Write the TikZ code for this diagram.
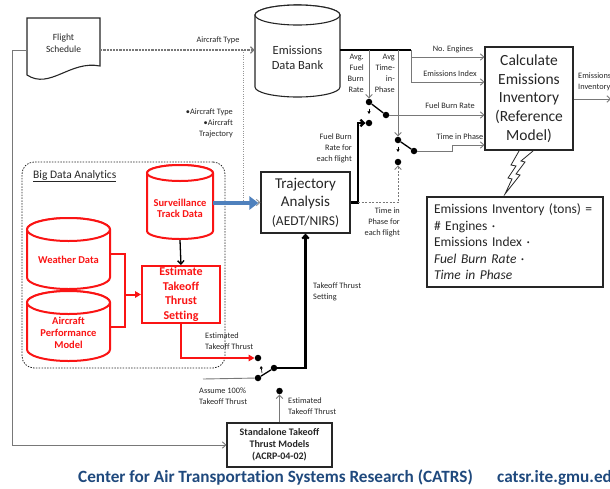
\documentclass[tikz,border=0pt]{standalone}
\usepackage{fontspec}
\setmainfont{Carlito}[Ligatures=CommonOff]
\usetikzlibrary{arrows.meta}
\definecolor{ink}{RGB}{38,38,38}
\definecolor{wiregray}{RGB}{120,120,120}
\definecolor{faint}{RGB}{150,150,150}
\definecolor{alert}{RGB}{250,20,20}
\definecolor{flow}{RGB}{79,129,189}
\definecolor{brand}{RGB}{31,73,125}
\newcommand\fsz[2]{\fontsize{#1}{#2}\selectfont}
% database drum: style, x1, top, x2, bottom, half height of the lid
\newcommand\drum[6]{%
  \draw[#1] (#2,#3+#6) -- (#2,#5-#6)
    arc[start angle=180,end angle=0,x radius={(#4-#2)/2},y radius=#6]
    -- (#4,#3+#6)
    arc[start angle=0,end angle=-180,x radius={(#4-#2)/2},y radius=#6] -- cycle;
  \draw[#1] ({(#2+#4)/2},#3+#6) ellipse[x radius={(#4-#2)/2},y radius=#6];
}
\begin{document}
\begin{tikzpicture}[x=1pt,y=-1pt,
  box/.style={draw=ink,line width=1.1pt,fill=white,inner sep=0,align=center,text=ink},
  hotbox/.style={draw=alert,line width=2pt,fill=white,inner sep=0,align=center,text=alert,font=\bfseries\fsz{12}{14.5}},
  tag/.style={inner sep=0,text=ink,font=\fsz{8.3}{10.9}},
  wire/.style={draw=wiregray,line width=0.9pt},
  barb/.style={-{Straight Barb[length=3.5pt,width=6.5pt]}},
  heavy/.style={draw=black,line width=2.2pt},
  hot/.style={draw=alert,line width=2pt},
  hothead/.style={-{Triangle[length=6pt,width=6.5pt]}},
  contact/.style={circle,fill=black,inner sep=0,minimum size=6.5pt},
  dashwire/.style={draw=wiregray,line width=1.2pt,dash pattern=on 2.2pt off 1pt},
  thindash/.style={draw=wiregray,line width=0.8pt,dash pattern=on 2pt off 1.5pt},
  dotwire/.style={draw=faint,line width=0.9pt,dash pattern=on 1pt off 1.3pt},
  hint/.style={-{Triangle[length=2.6pt,width=3pt]},line width=0.6pt},
  cylred/.style={draw=alert,line width=2pt,fill=white},
  cylink/.style={draw=ink,line width=1.1pt,fill=white}
]
\useasboundingbox (0,0) rectangle (610,488);

% ---------- big data analytics region ----------
\node[draw=ink,line width=0.8pt,dash pattern=on 1.5pt off 1.3pt,rounded corners=12pt,
      minimum width=203pt,minimum height=206pt,inner sep=0] (bda) at (123.5,265) {};
\node[tag,font=\fsz{11.5}{13},anchor=west] (bdalab) at (33,176) {\underline{Big Data Analytics}};

% ---------- flight schedule (document shape) ----------
\draw[ink,line width=1.1pt,fill=white] (27,18) -- (100,18) -- (100,66)
  .. controls (70,60) and (50,90) .. (27,75) -- cycle;
\node[inner sep=0,minimum width=73pt,minimum height=64pt] (sched) at (63.5,50) {};
\node[tag,font=\fsz{9.5}{12},align=center] (schedtxt) at (63.5,43) {Flight\\Schedule};

% ---------- data stores ----------
\drum{cylink}{255}{5}{340}{97}{10}
\node[inner sep=0,minimum width=85pt,minimum height=90pt] (bank) at (297.5,50) {};
\node[tag,font=\fsz{12.5}{15},align=center] (banktxt) at (297.5,57.5) {Emissions\\Data Bank};

\drum{cylred}{147}{165}{213}{239}{8}
\node[inner sep=0,minimum width=66pt,minimum height=74pt] (surv) at (180,203) {};
\node[text=alert,font=\bfseries\fsz{10.5}{11.5},align=center,inner sep=0] (survtxt) at (180,208.5) {Surveillance\\Track Data};

\drum{cylred}{27}{218}{110}{289}{11.5}
\node[inner sep=0,minimum width=83pt,minimum height=70pt] (wx) at (68.5,254) {};
\node[text=alert,font=\bfseries\fsz{10.5}{12},inner sep=0] (wxtxt) at (68.5,260) {Weather Data};

\drum{cylred}{27}{291}{110}{361}{11.5}
\node[inner sep=0,minimum width=83pt,minimum height=66pt] (acp) at (68.5,327) {};
\node[text=alert,font=\bfseries\fsz{10.5}{12},align=center,inner sep=0] (acptxt) at (68.5,333) {Aircraft\\Performance\\Model};

% ---------- process boxes ----------
\node[hotbox,minimum width=78pt,minimum height=57pt] (est) at (181,294.5) {Estimate\\Takeoff\\Thrust\\Setting};
\node[box,minimum width=89pt,minimum height=61pt,font=\fsz{15}{18.5}] (traj) at (305.5,202.5)
  {Trajectory\\Analysis\\{\fsz{13.5}{18.5}(AEDT/NIRS)}};
\node[box,minimum width=88pt,minimum height=103pt,font=\fsz{15.5}{18.8}] (calc) at (529,98.5)
  {Calculate\\Emissions\\Inventory\\(Reference\\Model)};
\node[box,minimum width=176pt,minimum height=90pt,text width=162pt,align=left,font=\fsz{13.5}{16.5}] (formula) at (515,242)
  {Emissions Inventory (tons) =\\\# Engines ·\\Emissions Index ·\\\textit{Fuel Burn Rate} ·\\\textit{Time in Phase}};
\node[box,minimum width=105pt,minimum height=44pt,font=\bfseries\fsz{10}{12}] (stand) at (279.5,445)
  {Standalone Takeoff\\Thrust Models\\(ACRP-04-02)};

% lightning link between the two right-hand boxes
\draw[ink,line width=0.8pt,fill=white] (519,151) -- (511,165) -- (516,166) -- (508,178) -- (512,179)
  -- (505,194) -- (520,175) -- (516,174) -- (525,162) -- (521,161) -- (533,151);

% ---------- switch contacts ----------
\node[contact] (t1) at (369,102) {};
\node[contact] (l1) at (369,123) {};
\node[contact] (r1) at (386,115) {};
\node[contact] (t2) at (398,140) {};
\node[contact] (l2) at (398,162) {};
\node[contact] (r2) at (414,151) {};
\node[contact] (t3) at (258,358) {};
\node[contact] (l3) at (258,378) {};
\node[contact] (r3) at (274,368) {};
\node[contact] (d4) at (279.5,391) {};

% ---------- helper points ----------
\coordinate (tap) at (243,50);
\coordinate (busend) at (411,50);
\coordinate (yEng) at (0,57);
\coordinate (yIdx) at (0,82);
\coordinate (jog) at (452,145);
\coordinate (fbx) at (358,0);
\coordinate (redx) at (125,0);
\coordinate (lcorner) at (12,50);
\coordinate (asm) at (203,379);
\coordinate (outEnd) at (611,99);

% ---------- connectors ----------
\draw[dashwire,barb] (sched.east) -- (bank.west);
\draw[dotwire,barb] (tap) |- (traj.west);
\draw[wire,barb] (sched.west) -- (lcorner) |- (stand.west);

\draw[heavy] (bank.east) -- (busend);
\draw[wire,barb] (busend |- yEng) -- (calc.west |- yEng);
\draw[wire,barb] (busend) |- (calc.west |- yIdx);
\draw[wire,barb] (t1 |- busend) -- (t1);
\draw[wire,barb] (t2 |- busend) -- (t2);

\draw[black,line width=1.3pt] (t1) -- (r1);
\draw[hint] (369,108.5) -- (369,114);
\draw[wire,barb] (r1) -- (calc.west |- r1);

\draw[black,line width=1.3pt] (t2) -- (r2);
\draw[hint] (398,146.5) -- (398,152);
\draw[wire,barb] (r2) -- (jog |- r2) -- (jog) -- (calc.west |- jog);

\draw[heavy,barb] (traj.east) -- (traj.east -| fbx) -- (fbx |- l1) -- (l1);
\draw[thindash,barb] (traj.east -| fbx) -| (l2);

\draw[wire,barb] (calc.east |- outEnd) -- (outEnd);

\draw[line width=3.6pt,flow,-{Triangle[length=9pt,width=13pt]},shorten >=2pt] (surv.east) -- (traj.west |- surv.east);
\draw[black,line width=1.3pt,barb] (surv.south) -- (est.north);

\draw[hot] (wx.east) -- (redx |- wx.east) -- (redx |- acp.east) -- (acp.east);
\draw[hot,hothead] (redx |- est.west) -- (est.west);
\draw[hot,hothead] (est.south) |- (t3);

\draw[black,line width=1.3pt] (l3) -- (r3);
\draw[hint] (262,373) -- (261,366);
\draw[heavy,barb] (r3) -| (traj.south);
\draw[wire] (asm) -- (l3);
\draw[wire,barb] (stand.north) -- (d4);

% ---------- connector labels ----------
\node[tag] (lat) at (218,40) {Aircraft Type};
\node[tag,align=right,anchor=east] (lac) at (233,123.5) {•Aircraft Type\\•Aircraft\\Trajectory};
\node[tag] (leng) at (453,49) {No. Engines};
\node[tag] (lidx) at (450,74) {Emissions Index};
\node[tag] (lfbr) at (450,106) {Fuel Burn Rate};
\node[tag] (ltip) at (460,137) {Time in Phase};
\node[tag,align=right,anchor=east] (lavf) at (364,73.5) {Avg.\\Fuel\\Burn\\Rate};
\node[tag,align=right,anchor=east] (lavt) at (395,73.5) {Avg\\Time-\\in-\\Phase};
\node[tag,align=right,anchor=east] (lfbf) at (352,148.5) {Fuel Burn\\Rate for\\each flight};
\node[tag,align=right,anchor=east] (ltpf) at (400,222.5) {Time in\\Phase for\\each flight};
\node[tag,align=left,anchor=west] (ltts) at (313,292) {Takeoff Thrust\\Setting};
\node[tag,align=left,anchor=west] (lett1) at (205,341.5) {Estimated\\Takeoff Thrust};
\node[tag,align=left,anchor=west] (la100) at (199,396) {Assume 100\%\\Takeoff Thrust};
\node[tag,align=left,anchor=west] (lett2) at (288,406.5) {Estimated\\Takeoff Thrust};
\node[tag,align=left,anchor=west] (lout) at (578,81.5) {Emissions\\Inventory};

% ---------- footer ----------
\node[anchor=base west,inner sep=0,text=brand,font=\bfseries\fsz{17.2}{20}] (foot) at (78,482)
  {Center for Air Transportation Systems Research (CATRS)};
\node[anchor=base west,inner sep=0,text=brand,font=\bfseries\fsz{17.2}{20}] (url) at (497,482)
  {catsr.ite.gmu.edu};
\end{tikzpicture}
\end{document}
